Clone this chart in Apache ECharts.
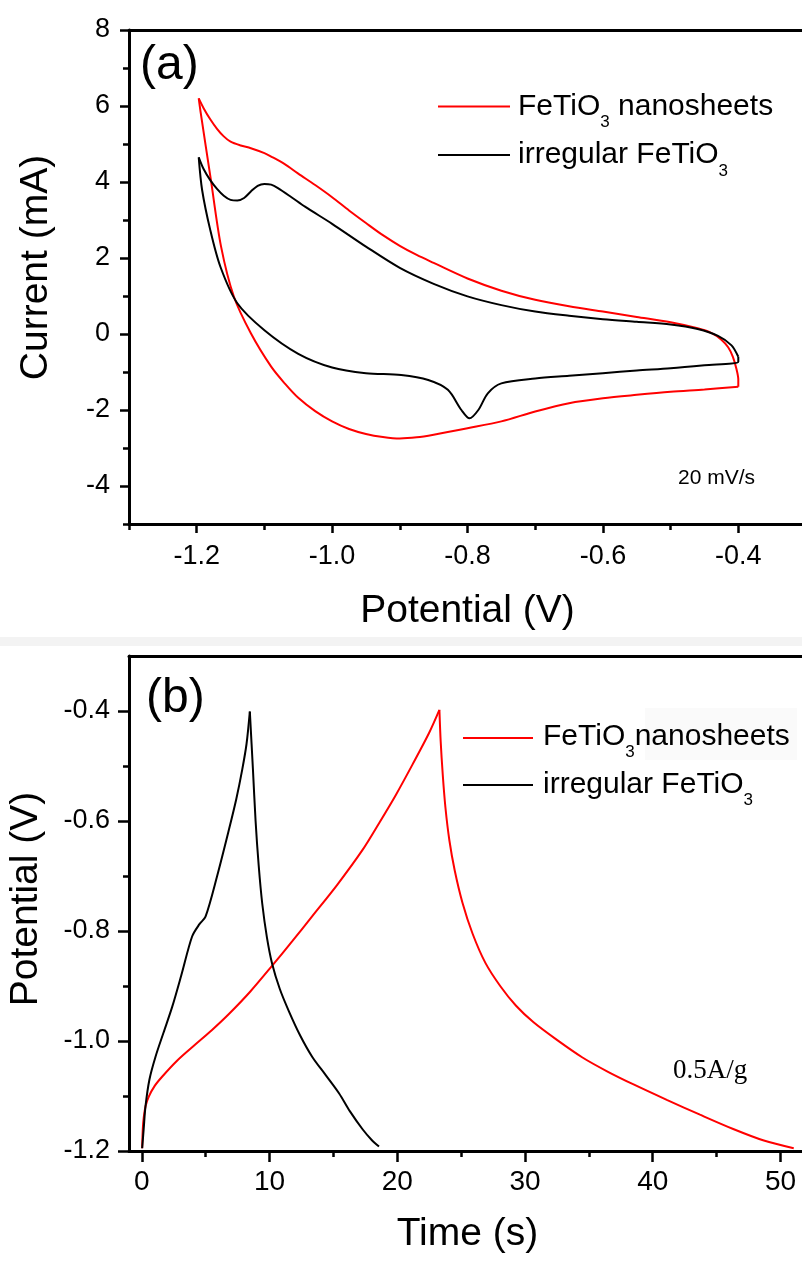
<!DOCTYPE html>
<html><head><meta charset="utf-8">
<script src="https://cdn.jsdelivr.net/npm/echarts@6/dist/echarts.min.js"></script>
<style>html,body{margin:0;padding:0;background:#fff}#c{width:802px;height:1263px}</style>
</head><body><div id="c"></div>
<script>
// ---------- (a) CV curves: [potential V, current mA] ----------
const cvRedForward = [[-1.197,6.2],[-1.19,5.95],[-1.18,5.65],[-1.17,5.4],[-1.16,5.2],[-1.15,5.06],[-1.135,4.96],[-1.12,4.89],[-1.10,4.76],[-1.09,4.67],[-1.07,4.47],[-1.05,4.22],[-1.025,3.92],[-1.0,3.6],[-0.975,3.25],[-0.95,2.92],[-0.925,2.6],[-0.9,2.32],[-0.875,2.08],[-0.85,1.87],[-0.8,1.46],[-0.75,1.14],[-0.7,0.9],[-0.65,0.73],[-0.6,0.59],[-0.55,0.45],[-0.5,0.31],[-0.46,0.15],[-0.44,0.03],[-0.425,-0.15],[-0.415,-0.35],[-0.408,-0.6],[-0.403,-0.9],[-0.40,-1.2],[-0.40,-1.39]];
const cvRedReverse = [[-0.40,-1.39],[-0.45,-1.46],[-0.5,-1.52],[-0.55,-1.6],[-0.6,-1.69],[-0.65,-1.82],[-0.7,-2.04],[-0.75,-2.3],[-0.8,-2.48],[-0.85,-2.65],[-0.875,-2.72],[-0.9,-2.75],[-0.925,-2.71],[-0.95,-2.63],[-0.975,-2.5],[-1.0,-2.3],[-1.025,-2.03],[-1.05,-1.68],[-1.07,-1.3],[-1.09,-0.86],[-1.12,0.02],[-1.145,0.98],[-1.164,2.3],[-1.179,4.05],[-1.194,5.81],[-1.197,6.2]];
const cvBlackForward = [[-1.197,4.65],[-1.19,4.35],[-1.18,4.05],[-1.17,3.82],[-1.16,3.64],[-1.15,3.53],[-1.14,3.51],[-1.13,3.58],[-1.12,3.75],[-1.11,3.9],[-1.10,3.95],[-1.09,3.93],[-1.08,3.84],[-1.06,3.6],[-1.04,3.35],[-1.0,2.9],[-0.95,2.3],[-0.9,1.74],[-0.85,1.32],[-0.8,0.99],[-0.75,0.76],[-0.7,0.59],[-0.65,0.48],[-0.6,0.39],[-0.55,0.32],[-0.5,0.25],[-0.46,0.13],[-0.43,-0.05],[-0.41,-0.3],[-0.40,-0.6]];
const cvBlackReverse = [[-0.40,-0.6],[-0.40,-0.73],[-0.45,-0.82],[-0.5,-0.9],[-0.55,-0.96],[-0.6,-1.03],[-0.65,-1.1],[-0.7,-1.17],[-0.75,-1.3],[-0.77,-1.56],[-0.784,-2.0],[-0.797,-2.22],[-0.809,-2.0],[-0.829,-1.47],[-0.858,-1.21],[-0.898,-1.08],[-0.95,-1.03],[-1.0,-0.88],[-1.05,-0.52],[-1.1,0.1],[-1.14,0.81],[-1.165,1.77],[-1.18,2.74],[-1.192,3.79],[-1.197,4.65]];

// ---------- (b) GCD curves: [time s, potential V] ----------
const gcdRedCharge = [[0.03,-1.195],[0.08,-1.16],[0.16,-1.138],[0.3,-1.118],[0.55,-1.101],[1.0,-1.082],[1.59,-1.065],[2.8,-1.035],[4.21,-1.006],[5.5,-0.98],[6.82,-0.951],[8.5,-0.91],[10.21,-0.863],[11.8,-0.818],[13.35,-0.773],[15.3,-0.716],[17.27,-0.653],[18.6,-0.603],[19.88,-0.553],[21.2,-0.497],[22.49,-0.44],[23.3,-0.398]];
const gcdRedDischarge = [[23.3,-0.398],[23.4,-0.455],[23.56,-0.515],[23.77,-0.575],[24.08,-0.635],[24.5,-0.69],[25.1,-0.748],[25.9,-0.805],[26.9,-0.858],[28.06,-0.9],[29.3,-0.936],[30.67,-0.966],[32.5,-0.998],[34.5,-1.03],[36.5,-1.056],[38.5,-1.079],[41.1,-1.107],[43.7,-1.134],[46.3,-1.16],[48.7,-1.181],[51.04,-1.195]];
const gcdBlackCharge = [[0.03,-1.195],[0.15,-1.16],[0.29,-1.119],[0.6,-1.07],[1.07,-1.029],[1.7,-0.985],[2.38,-0.938],[3.1,-0.88],[3.94,-0.81],[4.5,-0.788],[4.99,-0.774],[5.9,-0.70],[6.82,-0.616],[7.4,-0.56],[7.86,-0.507],[8.2,-0.46],[8.46,-0.401]];
const gcdBlackDischarge = [[8.46,-0.401],[8.7,-0.505],[8.91,-0.6],[9.15,-0.68],[9.43,-0.75],[9.8,-0.812],[10.21,-0.86],[10.8,-0.905],[11.52,-0.946],[12.4,-0.99],[13.35,-1.029],[14.4,-1.062],[15.44,-1.095],[16.3,-1.128],[17.27,-1.16],[18.0,-1.18],[18.57,-1.192]];

// ---------- ticks ----------
const aXMajor = [-1.2,-1.0,-0.8,-0.6,-0.4];
const aXMinor = [-1.3,-1.1,-0.9,-0.7,-0.5];
const aYMajor = [-4,-2,0,2,4,6,8];
const aYMinor = [-5,-3,-1,1,3,5,7];
const bXMajor = [0,10,20,30,40,50];
const bXMinor = [5,15,25,35,45];
const bYMajor = [-1.2,-1.0,-0.8,-0.6,-0.4];
const bYMinor = [-1.1,-0.9,-0.7,-0.5];

const FONT = "'Liberation Sans', Arial, sans-serif";
const RED = '#ff0000', BLK = '#000000';

function majorAxis(o){
  return Object.assign({
    type:'value', splitLine:{show:false},
    axisLine:{show:true, onZero:false, lineStyle:{color:'#000', width:3}},
    axisTick:{show:true, length:o.tl, customValues:o.ticks, lineStyle:{color:'#000', width:2.5}},
    axisLabel:{show:true, customValues:o.ticks, margin:o.margin, fontSize:o.fs, fontFamily:FONT, color:'#000',
      formatter: v => o.dec ? Number(v).toFixed(o.dec) : String(Math.round(v))},
    nameLocation:'middle', nameGap:o.nameGap,
    nameTextStyle:{fontSize:39, fontFamily:FONT, color:'#000', padding:o.pad||0}
  }, o.base);
}
function minorAxis(o){
  return Object.assign({
    type:'value', splitLine:{show:false},
    axisLine:{show:false, onZero:false},
    axisTick:{show:true, length:6, customValues:o.ticks, lineStyle:{color:'#000', width:2.5}},
    axisLabel:{show:false}
  }, o.base);
}
function frameAxis(o){
  return Object.assign({
    type:'value', splitLine:{show:false},
    axisLine:{show:true, onZero:false, lineStyle:{color:'#000', width:3}},
    axisTick:{show:false}, axisLabel:{show:false}
  }, o);
}

const chart = echarts.init(document.getElementById('c'), null, {renderer:'canvas'});
const option = {
  animation:false,
  backgroundColor:'#fff',
  grid:[
    {left:129, top:30, width:677, height:494, show:false, outerBoundsMode:'none', containLabel:false},
    {left:129, top:656, width:677, height:495, show:false, outerBoundsMode:'none', containLabel:false}
  ],
  xAxis:[
    majorAxis({base:{gridIndex:0, min:-1.3, max:-0.3, position:'bottom', name:'Potential (V)'}, ticks:aXMajor, tl:9, margin:19, fs:27, dec:1, nameGap:68}),
    minorAxis({base:{gridIndex:0, min:-1.3, max:-0.3, position:'bottom'}, ticks:aXMinor}),
    frameAxis({gridIndex:0, min:-1.3, max:-0.3, position:'top'}),
    majorAxis({base:{gridIndex:1, min:-1, max:52, position:'bottom', name:'Time (s)'}, ticks:bXMajor, tl:11, margin:17, fs:28, dec:0, nameGap:64}),
    minorAxis({base:{gridIndex:1, min:-1, max:52, position:'bottom'}, ticks:bXMinor}),
    frameAxis({gridIndex:1, min:-1, max:52, position:'top'})
  ],
  yAxis:[
    majorAxis({base:{gridIndex:0, min:-5, max:8, position:'left', name:'Current (mA)'}, ticks:aYMajor, tl:9, margin:19, fs:27, dec:0, nameGap:73, pad:[0,0,0,19]}),
    minorAxis({base:{gridIndex:0, min:-5, max:8, position:'left'}, ticks:aYMinor}),
    majorAxis({base:{gridIndex:1, min:-1.2, max:-0.3, position:'left', name:'Potential (V)'}, ticks:bYMajor, tl:11, margin:19, fs:27, dec:1, nameGap:83, pad:[0,0,0,9]}),
    minorAxis({base:{gridIndex:1, min:-1.2, max:-0.3, position:'left'}, ticks:bYMinor})
  ],
  series:[
    {name:'FeTiO3 nanosheets', data:cvRedForward, x:0, y:0, c:RED},
    {name:'FeTiO3 nanosheets', data:cvRedReverse, x:0, y:0, c:RED},
    {name:'irregular FeTiO3', data:cvBlackForward, x:0, y:0, c:BLK},
    {name:'irregular FeTiO3', data:cvBlackReverse, x:0, y:0, c:BLK},
    {name:'FeTiO3 nanosheets', data:gcdRedCharge, x:3, y:2, c:RED},
    {name:'FeTiO3 nanosheets', data:gcdRedDischarge, x:3, y:2, c:RED},
    {name:'irregular FeTiO3', data:gcdBlackCharge, x:3, y:2, c:BLK},
    {name:'irregular FeTiO3', data:gcdBlackDischarge, x:3, y:2, c:BLK}
  ].map(s => ({
    type:'line', name:s.name, data:s.data, xAxisIndex:s.x, yAxisIndex:s.y,
    showSymbol:false, symbol:'none', smooth:0.3, clip:true,
    lineStyle:{color:s.c, width:2}, itemStyle:{color:s.c}, z:3
  })),
  graphic:[
    {type:'rect', shape:{x:0, y:637, width:802, height:9}, style:{fill:'#f3f3f3'}, silent:true, z:0},
    {type:'rect', shape:{x:645, y:708, width:152, height:52}, style:{fill:'#fafafa'}, silent:true, z:0},
    {type:'text', x:140, y:66, style:{text:'(a)', fontSize:48, fontFamily:FONT, fill:'#000', verticalAlign:'middle', align:'left'}, z:10},
    {type:'text', x:146, y:699, style:{text:'(b)', fontSize:48, fontFamily:FONT, fill:'#000', verticalAlign:'middle', align:'left'}, z:10},
    {type:'text', x:678, y:478, style:{text:'20 mV/s', fontSize:21, fontFamily:FONT, fill:'#000', verticalAlign:'middle', align:'left'}, z:10},
    {type:'text', x:673, y:1071, style:{text:'0.5A/g', fontSize:27, fontFamily:"'Liberation Serif', 'Times New Roman', serif", fill:'#000', verticalAlign:'middle', align:'left'}, z:10},
    // legend (a)
    {type:'line', shape:{x1:438, y1:106.5, x2:510, y2:106.5}, style:{stroke:RED, lineWidth:2}, z:10},
    {type:'text', x:518, y:106.5, style:{text:'{m|FeTiO}{s|3}{m| nanosheets}', verticalAlign:'middle', align:'left',
      rich:{m:{fontSize:30, fontFamily:FONT, fill:'#000'}, s:{fontSize:17, fontFamily:FONT, fill:'#000', padding:[32,0,0,0]}}}, z:10},
    {type:'line', shape:{x1:438, y1:155, x2:510, y2:155}, style:{stroke:BLK, lineWidth:2}, z:10},
    {type:'text', x:518, y:155, style:{text:'{m|irregular FeTiO}{s|3}', verticalAlign:'middle', align:'left',
      rich:{m:{fontSize:30, fontFamily:FONT, fill:'#000'}, s:{fontSize:17, fontFamily:FONT, fill:'#000', padding:[32,0,0,0]}}}, z:10},
    // legend (b)
    {type:'line', shape:{x1:463, y1:738, x2:533, y2:738}, style:{stroke:RED, lineWidth:2}, z:10},
    {type:'text', x:543, y:736.5, style:{text:'{m|FeTiO}{s|3}{m|nanosheets}', verticalAlign:'middle', align:'left',
      rich:{m:{fontSize:30, fontFamily:FONT, fill:'#000'}, s:{fontSize:17, fontFamily:FONT, fill:'#000', padding:[32,0,0,0]}}}, z:10},
    {type:'line', shape:{x1:463, y1:785, x2:533, y2:785}, style:{stroke:BLK, lineWidth:2}, z:10},
    {type:'text', x:543, y:784.5, style:{text:'{m|irregular FeTiO}{s|3}', verticalAlign:'middle', align:'left',
      rich:{m:{fontSize:30, fontFamily:FONT, fill:'#000'}, s:{fontSize:17, fontFamily:FONT, fill:'#000', padding:[32,0,0,0]}}}, z:10}
  ]
};
chart.setOption(option);
</script></body></html>
